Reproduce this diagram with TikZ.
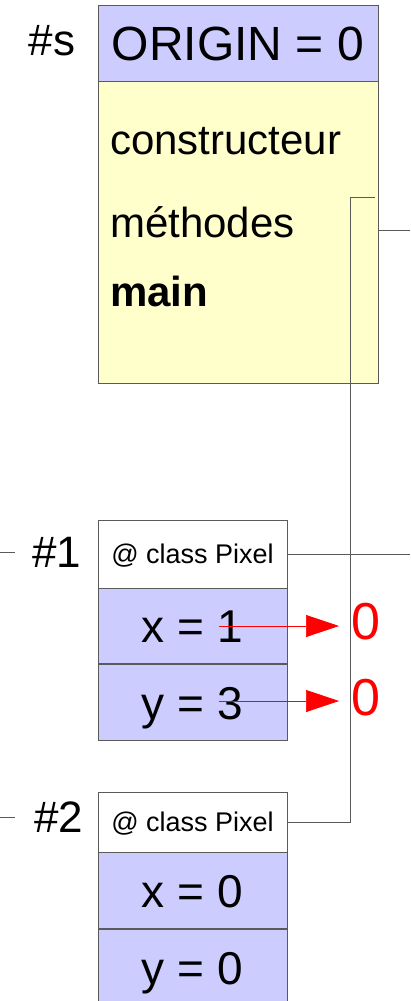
\documentclass[tikz,border=0pt]{standalone}
\usepackage{fontspec}
\setmainfont{Liberation Sans}
\usetikzlibrary{positioning}
\usetikzlibrary{arrows.meta}

\definecolor{hdrblue}{RGB}{204,204,255}
\definecolor{bodyyellow}{RGB}{255,255,204}
\definecolor{linegray}{RGB}{90,90,90}

\newcommand{\fs}[1]{\fontsize{#1}{#1}\selectfont}

\tikzset{
	cell/.style = {draw=linegray, line width=0.8pt, inner sep=0pt, text depth=0pt},
	pixcell/.style = {cell, minimum width=189pt},
	big/.style = {font=\fs{46}, text height=32.9pt, text depth=0pt},
	small/.style = {font=\fs{27}, text height=19.3pt, text depth=0pt},
	member/.style = {anchor=base west, inner sep=0pt, font=\fs{42}},
	conn/.style = {draw=linegray, line width=0.8pt},
	lbl/.style = {inner sep=0pt, font=\fs{44}, text height=31.5pt, text depth=0pt},
	zero/.style = {inner sep=0pt, inner xsep=12pt, anchor=west, text=red, font=\fs{52}, text height=37.2pt, text depth=0pt},
	redarrow/.style = {red, line width=0.7pt, -{Triangle[length=33pt, width=22pt]}}
}

\begin{document}
\begin{tikzpicture}[x=1pt, y=-1pt]
	\useasboundingbox (0,0) rectangle (410,1001);
	
	% static part #s
	\node[cell, fill=hdrblue, minimum width=280pt, minimum height=76pt, font=\fs{48}, text height=34.4pt] (sorigin) at (238,43) {ORIGIN = 0};
	\node[cell, fill=bodyyellow, minimum width=280pt, minimum height=302pt, below=0pt of sorigin] (sbody) {};
	\node[lbl] (slabel) at (52,40) {\#s};
	\node[member] (sctor) at (110,154) {constructeur};
	\node[member] (smeth) at (110,237) {méthodes};
	\node[member, font=\fs{42}\bfseries] (smain) at (110,306) {main};
	
	% object #1
	\node[pixcell, fill=white, minimum height=68pt, small] (pixA) at (192.5,554) {@ class Pixel};
	\node[pixcell, fill=hdrblue, minimum height=75pt, big, below=0pt of pixA] (pixAx) {x = 1};
	\node[pixcell, fill=hdrblue, minimum height=76pt, big, below=0pt of pixAx] (pixAy) {y = 3};
	\node[lbl] (alabel) at (57,552) {\#1};
	
	% object #2
	\node[pixcell, fill=white, minimum height=60pt, small] (pixB) at (192.5,822) {@ class Pixel};
	\node[pixcell, fill=hdrblue, minimum height=76pt, big, below=0pt of pixB] (pixBx) {x = 0};
	\node[pixcell, fill=hdrblue, minimum height=76pt, big, below=0pt of pixBx] (pixBy) {y = 0};
	\node[lbl] (blabel) at (59,817) {\#2};
	
	% new values
	\node[zero] (zeroA) at (339,621) {0};
	\node[zero] (zeroB) at (339,697) {0};
	\coordinate (xfrom) at (219,626);
	\coordinate (yfrom) at (219,701);
	\draw[redarrow] (xfrom) -- (xfrom -| zeroA.west);
	\draw[redarrow] (yfrom) -- (yfrom -| zeroB.west);
	
	% references
	\coordinate (mref) at (375,197);
	\draw[conn] (mref) -- ++(-25,0) |- (pixB.east); % to #2
	\coordinate (sout) at (410,230);
	\draw[conn] (sout -| sbody.east) -- (sout);
	\coordinate (aout) at (410,553);
	\draw[conn] (pixA.east) -- (pixA.east -| aout);
	\coordinate (ain) at (0,552);
	\draw[conn] (ain) -- ++(15,0);
	\coordinate (bin) at (0,817);
	\draw[conn] (bin) -- ++(15,0);
\end{tikzpicture}
\end{document}
